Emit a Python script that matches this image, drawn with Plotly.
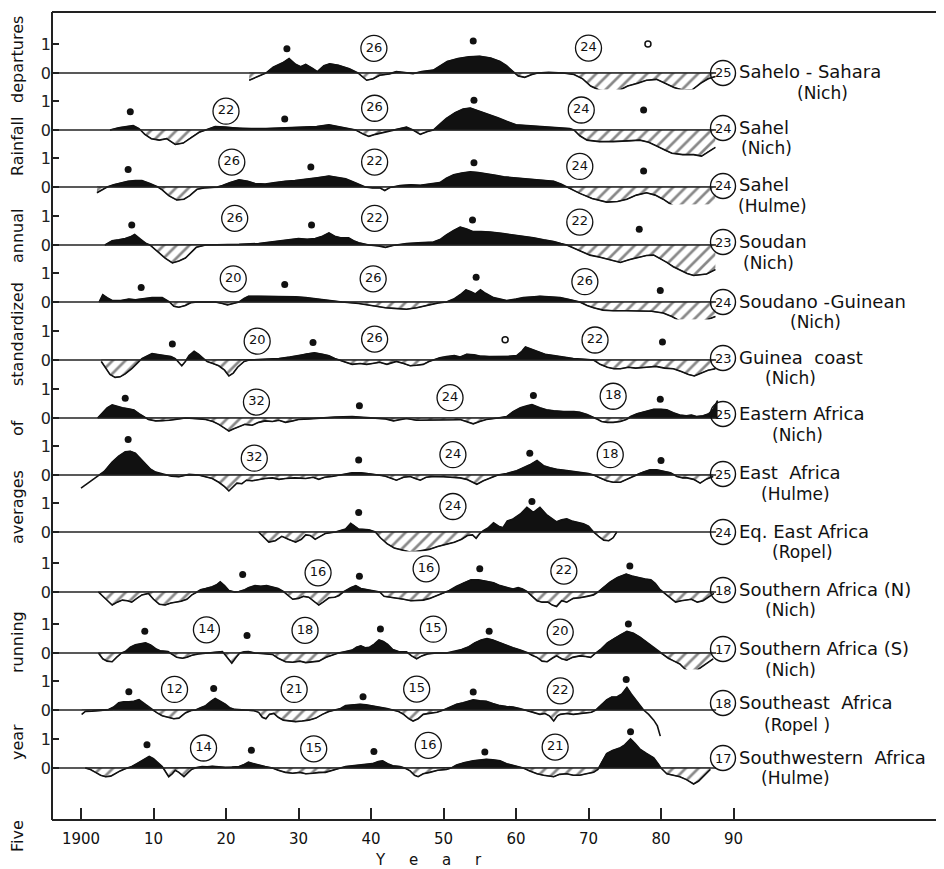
import plotly.graph_objects as go

# ---------------- data ----------------
SS_YEARS = [1923.2,1924.3,1925.5,1926.5,1927.8,1928.7,1929.6,1930.3,1931.0,1932.0,1932.6,1933.5,1934.3,1935.5,1937.0,1938.2,1939.4,1940.3,1941.2,1942.5,1943.5,1944.5,1945.8,1947.0,1948.6,1949.6,1950.5,1952.0,1953.5,1955.0,1956.5,1957.8,1958.7,1959.6,1960.3,1961.2,1962.2,1963.0,1964.5,1966.5,1968.0,1969.2,1970.3,1971.6,1972.9,1974.2,1975.4,1976.8,1978.0,1979.4,1980.5,1981.8,1983.2,1984.3,1985.5,1986.5,1987.5]
SS_VALUES = [-0.25,-0.12,0.0,0.2,0.35,0.5,0.3,0.22,0.3,0.15,0.05,0.25,0.32,0.27,0.15,0.0,-0.25,-0.2,-0.08,-0.03,0.05,0.02,-0.02,0.05,0.1,0.25,0.4,0.5,0.56,0.58,0.52,0.4,0.25,0.05,-0.1,-0.15,-0.05,0.0,0.02,0.0,-0.05,-0.2,-0.45,-0.6,-0.65,-0.6,-0.45,-0.35,-0.25,-0.22,-0.35,-0.5,-0.6,-0.58,-0.35,-0.2,-0.12]

SN_YEARS = [1904.0,1905.2,1906.3,1907.2,1908.0,1908.8,1909.7,1910.8,1911.8,1913.0,1914.1,1915.2,1916.3,1917.2,1918.5,1919.9,1921.8,1923.6,1925.5,1928.2,1931.0,1932.5,1934.2,1936.0,1937.9,1939.0,1939.7,1940.6,1941.8,1943.0,1944.9,1945.8,1946.8,1947.8,1948.6,1949.5,1950.4,1951.6,1952.7,1953.7,1955.0,1956.2,1957.5,1958.7,1960.0,1961.5,1963.0,1964.2,1966.0,1967.4,1968.0,1968.8,1969.8,1971.5,1973.4,1975.5,1977.1,1978.3,1979.4,1980.5,1981.5,1983.0,1984.5,1985.6,1986.5,1987.5]
SN_VALUES = [0.0,0.08,0.12,0.15,0.05,-0.15,-0.3,-0.35,-0.3,-0.5,-0.45,-0.25,-0.08,0.0,0.12,0.1,0.05,0.05,0.05,0.08,0.1,0.12,0.18,0.1,0.0,-0.15,-0.22,-0.15,-0.08,0.0,0.1,0.0,-0.15,-0.05,0.0,0.2,0.4,0.6,0.72,0.76,0.65,0.55,0.42,0.3,0.18,0.15,0.12,0.12,0.08,0.05,0.0,-0.2,-0.35,-0.4,-0.4,-0.38,-0.35,-0.42,-0.55,-0.7,-0.8,-0.85,-0.85,-0.9,-0.75,-0.6]

SH_YEARS = [1902.2,1903.0,1903.6,1904.5,1905.5,1906.5,1907.5,1908.4,1909.5,1910.5,1911.2,1912.1,1913.2,1914.2,1915.0,1916.0,1917.0,1918.5,1919.5,1920.5,1921.8,1923.0,1924.0,1925.4,1926.8,1928.2,1929.5,1931.0,1932.6,1934.2,1935.3,1936.5,1937.5,1938.5,1939.2,1940.2,1941.2,1941.9,1942.6,1944.0,1945.5,1946.8,1948.0,1949.5,1950.4,1951.4,1952.5,1953.7,1954.8,1956.0,1957.2,1958.3,1960.6,1963.3,1965.2,1966.2,1967.0,1968.0,1968.8,1970.5,1972.5,1974.0,1975.3,1976.6,1978.0,1979.2,1980.3,1981.5,1982.6,1983.8,1985.0,1986.3,1987.5]
SH_VALUES = [-0.2,-0.1,0.0,0.08,0.15,0.2,0.22,0.22,0.12,0.02,-0.1,-0.3,-0.45,-0.42,-0.3,-0.08,-0.03,-0.02,0.05,0.15,0.25,0.2,0.12,0.1,0.15,0.2,0.22,0.28,0.32,0.38,0.32,0.28,0.18,0.08,0.0,-0.03,-0.03,-0.12,-0.02,0.05,0.08,0.06,0.1,0.15,0.3,0.42,0.48,0.52,0.5,0.46,0.4,0.35,0.3,0.25,0.2,0.1,0.0,-0.12,-0.22,-0.4,-0.52,-0.5,-0.42,-0.28,-0.2,-0.28,-0.42,-0.62,-0.8,-0.95,-1.1,-1.05,-0.9]

SO_YEARS = [1903.3,1904.3,1905.2,1906.1,1906.8,1907.4,1908.2,1909.0,1909.5,1910.7,1911.6,1912.6,1913.5,1914.4,1915.2,1915.9,1917.2,1919.0,1921.8,1924.5,1926.0,1927.3,1928.8,1930.0,1931.2,1932.3,1933.3,1934.2,1935.0,1935.8,1936.9,1937.6,1938.3,1939.7,1941.0,1942.0,1943.0,1944.9,1946.5,1948.6,1949.6,1950.4,1951.4,1952.3,1953.2,1954.1,1955.2,1956.4,1958.0,1959.6,1961.0,1962.4,1963.8,1965.2,1966.2,1967.0,1968.8,1970.2,1971.6,1973.0,1974.4,1975.7,1977.1,1978.0,1979.0,1980.0,1980.8,1981.7,1982.6,1983.6,1984.5,1985.5,1986.3,1987.5]
SO_VALUES = [0.0,0.15,0.18,0.22,0.28,0.36,0.2,0.05,0.0,-0.25,-0.45,-0.62,-0.55,-0.45,-0.25,-0.08,0.0,0.0,0.02,0.05,0.1,0.15,0.2,0.22,0.2,0.22,0.3,0.42,0.3,0.25,0.25,0.15,0.08,0.0,-0.03,-0.08,-0.02,0.05,0.08,0.1,0.2,0.35,0.5,0.62,0.55,0.46,0.46,0.45,0.4,0.35,0.3,0.25,0.18,0.12,0.05,0.0,-0.2,-0.35,-0.42,-0.52,-0.6,-0.5,-0.4,-0.36,-0.35,-0.48,-0.6,-0.75,-0.85,-0.98,-1.05,-1.02,-1.0,-0.85]

SG_YEARS = [1902.5,1903.0,1903.6,1904.3,1905.5,1906.6,1907.5,1908.2,1909.0,1909.8,1911.2,1911.8,1912.2,1912.8,1913.5,1914.4,1915.2,1916.0,1918.5,1919.5,1920.2,1921.0,1921.8,1922.5,1923.1,1924.5,1925.9,1927.3,1928.2,1929.6,1931.0,1932.6,1934.2,1936.0,1938.3,1939.5,1940.6,1942.0,1943.2,1944.9,1946.3,1948.1,1949.3,1950.4,1951.4,1952.3,1953.1,1953.8,1954.4,1955.1,1955.8,1956.9,1958.0,1958.7,1960.0,1961.0,1962.5,1963.3,1964.5,1966.1,1967.5,1968.8,1969.8,1970.7,1972.0,1973.4,1975.3,1977.1,1978.7,1980.3,1981.5,1982.6,1983.8,1984.9,1986.0,1987.5]
SG_VALUES = [0.0,0.25,0.15,0.05,0.05,0.1,0.08,0.1,0.12,0.15,0.15,0.05,0.0,-0.15,-0.18,-0.12,-0.02,0.0,0.0,-0.05,-0.1,-0.05,0.0,0.12,0.2,0.2,0.2,0.18,0.2,0.18,0.15,0.1,0.05,0.0,-0.05,-0.1,-0.15,-0.2,-0.22,-0.25,-0.2,-0.1,-0.03,0.0,0.1,0.25,0.42,0.35,0.28,0.42,0.3,0.15,0.08,0.05,0.1,0.15,0.18,0.2,0.18,0.15,0.08,0.0,-0.12,-0.2,-0.28,-0.3,-0.3,-0.3,-0.32,-0.38,-0.5,-0.65,-0.78,-0.8,-0.65,-0.5]

GC_YEARS = [1902.8,1903.4,1904.0,1904.7,1905.4,1906.1,1907.0,1907.8,1908.4,1909.2,1909.8,1910.8,1911.6,1912.4,1913.0,1913.5,1913.9,1914.4,1914.9,1915.6,1916.2,1916.9,1917.4,1918.2,1919.0,1919.8,1920.4,1921.0,1921.6,1922.5,1923.2,1925.0,1927.3,1928.8,1930.0,1931.2,1932.2,1933.3,1934.2,1935.0,1935.6,1936.5,1937.4,1938.5,1939.4,1940.2,1941.2,1942.2,1943.5,1944.5,1945.4,1946.3,1947.2,1948.0,1948.6,1949.5,1950.4,1951.5,1952.3,1953.2,1954.2,1955.0,1956.3,1957.8,1959.0,1960.1,1960.8,1961.3,1962.0,1962.9,1964.0,1965.2,1966.5,1967.9,1969.5,1970.7,1971.6,1972.6,1973.5,1974.4,1975.5,1976.5,1978.0,1979.3,1980.5,1981.7,1982.8,1983.8,1984.6,1985.5,1986.5,1987.5]
GC_VALUES = [-0.05,-0.3,-0.5,-0.6,-0.58,-0.48,-0.3,-0.1,0.05,0.15,0.22,0.18,0.15,0.12,0.05,-0.1,-0.2,-0.05,0.15,0.3,0.2,0.05,-0.05,-0.12,-0.2,-0.35,-0.55,-0.45,-0.25,-0.05,0.0,0.02,0.05,0.1,0.15,0.22,0.25,0.2,0.15,0.05,0.0,-0.08,-0.15,-0.12,-0.15,-0.12,-0.08,-0.15,-0.05,-0.12,-0.2,-0.18,-0.15,-0.05,0.0,0.08,0.12,0.15,0.1,0.2,0.18,0.14,0.12,0.12,0.13,0.15,0.3,0.45,0.38,0.3,0.2,0.15,0.1,0.05,0.02,0.0,-0.15,-0.25,-0.3,-0.3,-0.25,-0.28,-0.25,-0.22,-0.28,-0.3,-0.4,-0.5,-0.55,-0.45,-0.35,-0.3]

EA_YEARS = [1902.3,1903.0,1903.6,1904.3,1905.0,1905.7,1906.5,1907.3,1908.0,1908.7,1909.3,1910.3,1911.2,1912.2,1913.0,1914.4,1916.0,1917.2,1918.2,1919.0,1919.8,1920.4,1921.0,1921.8,1922.6,1923.6,1924.5,1925.4,1926.4,1927.3,1928.2,1929.2,1930.0,1931.5,1932.8,1935.0,1937.4,1939.7,1941.0,1942.0,1943.1,1944.0,1944.9,1946.3,1947.7,1949.0,1950.4,1951.5,1952.3,1953.2,1954.1,1955.0,1955.9,1957.5,1958.7,1959.6,1960.6,1961.5,1962.2,1963.3,1964.2,1965.2,1966.6,1968.0,1968.8,1969.8,1970.7,1971.3,1971.8,1972.6,1973.4,1974.4,1975.2,1975.8,1976.7,1977.8,1979.0,1980.0,1980.8,1981.7,1982.6,1983.5,1984.2,1984.9,1985.8,1986.6,1987.2,1987.8]
EA_VALUES = [0.0,0.2,0.35,0.45,0.4,0.35,0.32,0.28,0.15,0.05,-0.05,-0.1,-0.1,-0.08,-0.05,0.0,-0.02,-0.05,-0.12,-0.22,-0.35,-0.45,-0.38,-0.3,-0.22,-0.25,-0.15,-0.1,-0.12,-0.08,-0.15,-0.1,-0.05,-0.03,0.0,0.03,0.05,0.0,-0.02,-0.03,-0.1,-0.05,-0.02,-0.08,-0.08,-0.06,-0.08,-0.06,-0.05,-0.12,-0.2,-0.12,-0.05,0.0,0.05,0.22,0.35,0.42,0.46,0.35,0.28,0.25,0.22,0.22,0.2,0.12,0.03,-0.05,-0.12,-0.15,-0.15,-0.12,-0.05,0.05,0.15,0.22,0.3,0.3,0.28,0.18,0.1,0.08,0.1,0.05,0.08,0.15,0.3,0.6]

EH_YEARS = [1900.0,1901.0,1902.0,1902.5,1903.2,1904.3,1905.2,1906.1,1906.8,1907.5,1908.3,1908.9,1909.6,1910.3,1911.0,1911.6,1912.5,1913.5,1914.2,1914.9,1916.2,1917.2,1918.1,1919.0,1919.8,1920.4,1921.0,1921.5,1922.2,1922.8,1923.6,1924.5,1925.4,1926.4,1927.3,1928.2,1929.5,1931.0,1932.0,1932.8,1933.6,1934.6,1935.8,1937.4,1938.6,1939.7,1941.0,1942.0,1943.5,1944.5,1945.4,1946.1,1946.8,1947.6,1948.6,1950.0,1951.4,1952.3,1953.2,1954.0,1954.6,1955.5,1956.4,1957.5,1958.7,1959.5,1960.1,1961.0,1961.9,1962.9,1963.8,1964.7,1965.6,1967.0,1968.8,1970.0,1970.7,1971.5,1972.5,1973.4,1974.4,1975.3,1976.2,1976.9,1977.6,1978.5,1979.4,1980.5,1981.3,1982.2,1983.0,1983.6,1984.5,1985.4,1986.2,1987.2]
EH_VALUES = [-0.45,-0.28,-0.08,0.0,0.12,0.45,0.65,0.8,0.82,0.75,0.55,0.38,0.2,0.1,0.05,0.0,-0.04,-0.06,-0.02,0.02,0.0,-0.05,-0.12,-0.25,-0.4,-0.55,-0.42,-0.28,-0.3,-0.18,-0.2,-0.15,-0.12,-0.1,-0.15,-0.12,-0.1,-0.12,-0.08,-0.15,-0.08,-0.05,0.0,0.08,0.08,0.05,0.0,-0.04,-0.18,-0.08,-0.05,-0.12,-0.18,-0.08,-0.05,-0.06,-0.08,-0.1,-0.15,-0.25,-0.32,-0.2,-0.1,0.0,0.05,0.1,0.15,0.25,0.35,0.5,0.32,0.25,0.2,0.15,0.1,0.05,0.0,-0.1,-0.2,-0.25,-0.25,-0.15,-0.05,0.05,0.1,0.18,0.18,0.12,0.08,-0.05,-0.1,-0.1,-0.15,-0.28,-0.15,-0.05]

EQ_YEARS = [1924.5,1925.3,1925.9,1926.8,1927.7,1928.6,1929.6,1930.4,1931.0,1931.6,1932.3,1933.0,1933.7,1935.1,1936.5,1937.2,1937.8,1938.3,1939.7,1940.6,1941.3,1942.2,1943.2,1944.5,1945.5,1946.8,1948.0,1949.2,1950.4,1951.5,1952.5,1953.3,1954.0,1954.5,1955.0,1955.5,1956.2,1956.9,1957.6,1958.2,1958.8,1959.6,1960.6,1961.5,1962.4,1963.3,1964.2,1965.0,1965.6,1966.3,1967.0,1967.7,1968.4,1969.3,1970.0,1970.7,1971.4,1972.1,1972.8,1973.4,1973.9]
EQ_VALUES = [0.0,-0.2,-0.35,-0.3,-0.15,-0.25,-0.35,-0.25,-0.1,-0.12,-0.25,-0.15,-0.05,0.0,0.1,0.3,0.2,0.1,0.08,0.0,-0.2,-0.4,-0.55,-0.65,-0.7,-0.65,-0.6,-0.5,-0.42,-0.35,-0.25,-0.12,-0.1,-0.22,-0.05,0.05,0.15,0.32,0.2,0.15,0.38,0.45,0.62,0.85,0.68,0.85,0.6,0.45,0.35,0.42,0.45,0.38,0.33,0.28,0.2,0.0,-0.15,-0.28,-0.3,-0.2,0.0]

SAN_YEARS = [1902.4,1903.4,1904.3,1905.0,1905.7,1906.4,1907.0,1907.7,1908.4,1909.3,1910.0,1910.8,1911.6,1912.4,1913.0,1913.8,1914.6,1915.3,1916.0,1916.5,1917.2,1918.1,1918.7,1919.2,1919.8,1920.4,1921.2,1921.8,1922.6,1923.1,1924.0,1924.8,1925.6,1926.4,1927.2,1927.9,1928.5,1929.2,1930.0,1930.7,1931.4,1932.1,1932.8,1933.4,1934.2,1935.0,1935.6,1936.3,1937.2,1937.9,1938.6,1939.5,1940.6,1941.2,1941.8,1942.8,1943.5,1944.5,1945.5,1946.3,1947.2,1948.1,1949.2,1950.2,1950.8,1951.8,1952.8,1953.8,1954.8,1955.8,1956.9,1957.8,1958.7,1959.6,1960.3,1960.9,1961.5,1962.2,1962.9,1963.6,1964.4,1965.0,1965.6,1966.3,1967.0,1967.9,1968.8,1969.8,1970.7,1971.3,1972.0,1973.0,1974.0,1975.2,1976.0,1976.8,1977.8,1978.6,1979.2,1979.8,1980.5,1981.2,1982.0,1982.8,1983.4,1984.2,1985.0,1985.8,1986.7,1987.3]
SAN_VALUES = [0.0,-0.25,-0.45,-0.35,-0.28,-0.3,-0.35,-0.22,-0.1,-0.05,-0.25,-0.42,-0.45,-0.38,-0.35,-0.32,-0.25,-0.1,0.0,0.08,0.12,0.18,0.25,0.35,0.22,0.05,0.0,0.02,0.08,0.15,0.22,0.2,0.22,0.18,0.12,0.02,-0.1,-0.25,-0.22,-0.15,-0.18,-0.3,-0.45,-0.35,-0.2,-0.18,-0.12,0.02,0.15,0.22,0.12,0.08,0.05,0.0,-0.15,-0.18,-0.2,-0.25,-0.3,-0.3,-0.28,-0.22,-0.12,-0.02,0.05,0.2,0.32,0.42,0.42,0.38,0.32,0.22,0.15,0.1,0.15,0.1,0.02,-0.15,-0.3,-0.35,-0.35,-0.45,-0.5,-0.3,-0.35,-0.22,-0.2,-0.15,-0.1,0.0,0.15,0.35,0.5,0.62,0.55,0.5,0.45,0.42,0.3,0.1,-0.05,-0.2,-0.35,-0.3,-0.28,-0.25,-0.35,-0.3,-0.15,-0.05]

SAS_YEARS = [1902.4,1903.0,1903.6,1904.3,1904.9,1905.4,1906.1,1906.8,1907.5,1908.2,1908.9,1909.6,1910.3,1910.9,1912.0,1912.6,1913.2,1914.0,1914.6,1915.3,1916.2,1917.5,1918.5,1919.5,1920.2,1920.8,1921.4,1921.9,1922.5,1923.1,1924.0,1925.2,1926.4,1927.2,1928.2,1929.2,1930.2,1931.0,1931.8,1932.8,1933.8,1934.6,1935.5,1936.5,1937.4,1938.0,1938.6,1939.2,1939.8,1940.4,1941.1,1941.7,1942.3,1943.0,1943.8,1944.9,1945.6,1946.3,1947.0,1947.8,1949.0,1950.4,1951.5,1952.5,1953.5,1954.3,1955.2,1956.0,1956.8,1957.8,1958.7,1959.6,1960.6,1961.5,1962.2,1962.9,1963.6,1964.3,1965.0,1965.6,1966.3,1967.0,1967.8,1968.8,1969.6,1970.3,1971.0,1971.8,1972.6,1973.5,1974.4,1975.3,1976.2,1977.1,1978.0,1978.9,1979.7,1980.2,1981.0,1981.8,1982.6,1983.3,1984.0,1984.8,1985.5,1986.3,1987.2]
SAS_VALUES = [0.0,-0.2,-0.28,-0.3,-0.15,-0.02,0.05,0.2,0.28,0.32,0.35,0.28,0.15,0.08,0.05,-0.05,-0.15,-0.18,-0.15,-0.08,-0.03,0.0,0.03,0.05,-0.15,-0.35,-0.15,0.0,0.04,0.05,0.0,-0.02,-0.05,-0.18,-0.3,-0.32,-0.28,-0.33,-0.3,-0.28,-0.15,-0.08,0.0,0.05,0.1,0.2,0.25,0.18,0.2,0.3,0.45,0.4,0.3,0.12,0.05,0.04,-0.1,-0.2,-0.1,-0.03,0.0,0.0,0.05,0.12,0.22,0.35,0.45,0.5,0.45,0.35,0.25,0.18,0.1,0.03,-0.08,-0.15,-0.28,-0.3,-0.18,-0.1,-0.2,-0.25,-0.15,-0.1,-0.12,-0.15,0.0,0.15,0.35,0.5,0.62,0.75,0.68,0.55,0.38,0.2,0.05,-0.05,-0.18,-0.28,-0.38,-0.55,-0.68,-0.62,-0.5,-0.35,-0.2]

SE_YEARS = [1900.1,1900.6,1901.5,1902.9,1903.8,1904.5,1905.2,1905.9,1906.6,1907.3,1908.0,1908.6,1909.2,1909.8,1910.5,1911.2,1912.0,1912.8,1913.5,1914.4,1915.2,1915.8,1916.5,1917.2,1917.9,1918.5,1919.2,1919.9,1920.5,1921.2,1922.7,1923.8,1924.5,1925.0,1925.5,1926.0,1926.6,1927.2,1927.9,1928.7,1929.6,1930.5,1931.4,1932.4,1933.3,1934.2,1935.1,1935.8,1936.5,1937.5,1938.5,1939.3,1940.0,1940.8,1941.5,1942.2,1943.0,1943.8,1944.5,1945.2,1945.8,1946.5,1947.2,1948.2,1949.1,1950.0,1950.9,1951.8,1952.7,1953.5,1954.1,1955.0,1955.9,1956.8,1957.8,1958.7,1959.6,1960.5,1961.2,1961.9,1962.6,1963.3,1964.0,1964.6,1965.2,1965.7,1966.1,1967.0,1967.9,1968.8,1969.7,1970.4,1971.0,1971.6,1972.5,1973.2,1973.9,1974.6,1975.3,1975.9,1976.5,1977.1,1977.6,1978.3,1979.0,1979.5,1979.9]
SE_VALUES = [-0.15,-0.05,-0.04,-0.02,0.02,0.1,0.25,0.28,0.28,0.3,0.36,0.25,0.12,0.0,-0.1,-0.2,-0.25,-0.3,-0.28,-0.1,-0.02,0.0,0.08,0.15,0.3,0.4,0.3,0.2,0.08,0.02,0.0,-0.02,-0.08,-0.25,-0.3,-0.15,-0.12,-0.25,-0.35,-0.38,-0.4,-0.38,-0.35,-0.28,-0.15,-0.05,0.0,0.05,0.15,0.18,0.2,0.18,0.15,0.12,0.1,0.05,0.0,-0.05,-0.15,-0.3,-0.38,-0.3,-0.15,-0.1,-0.08,0.0,0.1,0.2,0.25,0.3,0.35,0.32,0.3,0.22,0.15,0.12,0.1,0.05,0.0,-0.05,-0.1,-0.15,-0.12,-0.2,-0.38,-0.2,-0.15,-0.12,-0.15,-0.12,-0.1,-0.08,0.0,0.15,0.35,0.45,0.45,0.55,0.78,0.55,0.35,0.15,0.0,-0.15,-0.35,-0.55,-0.9]

SW_YEARS = [1900.6,1901.3,1902.0,1902.7,1903.4,1904.1,1904.7,1905.4,1906.1,1907.0,1907.7,1908.4,1909.0,1909.4,1910.0,1910.6,1911.2,1911.6,1912.1,1912.6,1913.0,1913.5,1914.2,1914.8,1915.3,1916.0,1916.7,1917.4,1918.1,1919.0,1919.9,1920.8,1921.8,1922.5,1923.1,1923.8,1924.5,1925.4,1926.4,1927.2,1928.2,1929.2,1930.2,1931.0,1932.0,1932.8,1933.7,1934.4,1935.1,1935.8,1936.5,1937.4,1938.3,1939.2,1940.2,1941.0,1941.6,1942.3,1943.0,1944.0,1944.8,1945.4,1946.0,1946.5,1947.2,1948.1,1949.2,1950.4,1951.2,1951.8,1952.8,1954.1,1955.0,1955.9,1956.8,1957.8,1958.7,1959.6,1960.4,1961.0,1961.9,1962.9,1963.8,1964.6,1965.2,1966.0,1967.0,1967.9,1968.8,1969.7,1970.7,1971.3,1971.8,1972.5,1973.3,1974.4,1975.0,1975.8,1976.4,1977.1,1978.0,1979.0,1979.6,1980.0,1980.8,1981.6,1982.6,1983.5,1984.5,1985.2,1985.8,1986.4,1986.8]
SW_VALUES = [0.0,-0.05,-0.15,-0.25,-0.3,-0.28,-0.2,-0.1,-0.03,0.05,0.15,0.25,0.35,0.4,0.32,0.2,0.05,-0.1,-0.3,-0.2,-0.08,-0.15,-0.3,-0.15,-0.04,0.02,0.05,0.04,0.06,0.03,0.02,0.03,0.05,0.12,0.2,0.15,0.1,0.05,0.0,-0.08,-0.15,-0.18,-0.15,-0.2,-0.18,-0.15,-0.15,-0.1,-0.05,0.0,0.05,0.08,0.1,0.12,0.15,0.22,0.25,0.15,0.08,0.05,-0.02,-0.1,-0.25,-0.3,-0.2,-0.15,-0.08,-0.05,0.02,0.1,0.18,0.25,0.28,0.3,0.28,0.25,0.15,0.1,0.05,0.0,-0.1,-0.2,-0.25,-0.28,-0.3,-0.22,-0.2,-0.25,-0.25,-0.2,-0.15,-0.05,0.2,0.5,0.6,0.7,0.8,1.0,0.85,0.65,0.5,0.35,0.15,0.0,-0.2,-0.25,-0.3,-0.4,-0.55,-0.45,-0.3,-0.15,-0.05]

SERIES_YEARS = [SS_YEARS, SN_YEARS, SH_YEARS, SO_YEARS, SG_YEARS, GC_YEARS, EA_YEARS,
                EH_YEARS, EQ_YEARS, SAN_YEARS, SAS_YEARS, SE_YEARS, SW_YEARS]
SERIES_VALUES = [SS_VALUES, SN_VALUES, SH_VALUES, SO_VALUES, SG_VALUES, GC_VALUES, EA_VALUES,
                 EH_VALUES, EQ_VALUES, SAN_VALUES, SAS_VALUES, SE_VALUES, SW_VALUES]

REGION_NAMES = ["Sahelo - Sahara", "Sahel", "Sahel", "Soudan", "Soudano -Guinean",
                "Guinea\u00a0\u00a0coast", "Eastern Africa", "East\u00a0\u00a0Africa",
                "Eq. East Africa", "Southern Africa (N)", "Southern Africa (S)",
                "Southeast\u00a0\u00a0Africa", "Southwestern\u00a0\u00a0Africa"]
REGION_SOURCES = ["(Nich)", "(Nich)", "(Hulme)", "(Nich)", "(Nich)", "(Nich)", "(Nich)", "(Hulme)",
                  "(Ropel)", "(Nich)", "(Nich)", "(Ropel )", "(Hulme)"]
REGION_NUMBERS = ["25", "24", "24", "23", "24", "23", "25", "25", "24", "18", "17", "18", "17"]

# peak dots (year, value) per panel
DOT_YEARS = [[1928.4, 1954.1], [1906.8, 1928.1, 1954.2, 1977.6], [1906.5, 1931.7, 1954.2, 1977.6],
             [1907.0, 1931.8, 1954.0, 1977.0], [1908.3, 1928.1, 1954.5, 1979.9], [1912.6, 1932.0, 1980.2],
             [1906.1, 1938.4, 1962.4, 1979.9], [1906.5, 1938.3, 1961.9, 1980.0], [1938.3, 1962.2],
             [1922.3, 1938.4, 1955.0, 1975.7], [1908.8, 1922.9, 1941.3, 1956.3, 1975.5],
             [1906.6, 1918.3, 1938.9, 1954.1, 1975.2], [1909.1, 1923.5, 1940.4, 1955.7, 1975.8]]
DOT_VALUES = [[0.84, 1.1], [0.63, 0.38, 1.03, 0.69], [0.6, 0.69, 0.84, 0.55],
              [0.69, 0.69, 0.86, 0.54], [0.5, 0.6, 0.85, 0.4], [0.55, 0.6, 0.62],
              [0.68, 0.42, 0.78, 0.65], [1.22, 0.52, 0.75, 0.5], [0.67, 1.05],
              [0.6, 0.54, 0.8, 0.9], [0.75, 0.6, 0.83, 0.75, 1.0],
              [0.63, 0.74, 0.46, 0.62, 1.05], [0.8, 0.61, 0.57, 0.55, 1.25]]
OPEN_DOT_YEARS = [[1978.2], [], [], [], [], [1958.5], [], [], [], [], [], [], []]
OPEN_DOT_VALUES = [[1.0], [], [], [], [], [0.7], [], [], [], [], [], [], []]

# circled numbers inside the panels
CIRCLE_YEARS = [[1940.4, 1970.0], [1920.0, 1940.5, 1969.0], [1920.8, 1940.5, 1968.8],
                [1921.2, 1940.5, 1968.8], [1921.0, 1940.3, 1969.5], [1924.3, 1940.5, 1970.9],
                [1924.2, 1950.9, 1973.4], [1923.9, 1951.3, 1973.0], [1951.3],
                [1932.7, 1947.6, 1966.6], [1917.3, 1930.9, 1948.6, 1966.1],
                [1912.9, 1929.4, 1946.3, 1966.1], [1916.9, 1932.1, 1947.9, 1965.4]]
CIRCLE_VALUES = [[0.85, 0.86], [0.65, 0.75, 0.69], [0.86, 0.86, 0.71],
                 [0.92, 0.92, 0.79], [0.8, 0.8, 0.7], [0.65, 0.72, 0.69],
                 [0.55, 0.7, 0.75], [0.58, 0.7, 0.7], [0.88],
                 [0.66, 0.8, 0.72], [0.8, 0.78, 0.82, 0.72],
                 [0.71, 0.71, 0.72, 0.66], [0.69, 0.66, 0.78, 0.72]]
CIRCLE_LABELS = [["26", "24"], ["22", "26", "24"], ["26", "22", "24"], ["26", "22", "22"],
                 ["20", "26", "26"], ["20", "26", "22"], ["32", "24", "18"], ["32", "24", "18"],
                 ["24"], ["16", "16", "22"], ["14", "18", "15", "20"], ["12", "21", "15", "22"],
                 ["14", "15", "16", "21"]]

# portion of each curve that is shaded (None = whole curve)
FILL_FROM = [None, None, None, None, None, None, None, 1902.5, None, None, None, None, None]
FILL_TO = [None, None, None, None, None, None, None, None, None, None, None, 1977.6, None]

YEAR_TICKS = [1900, 1910, 1920, 1930, 1940, 1950, 1960, 1970, 1980, 1990]
YEAR_TICK_TEXT = ["1900", "10", "20", "30", "40", "50", "60", "70", "80", "90"]

YTITLE_WORDS = ["Five", "year", "running", "averages", "of", "standardized", "annual",
                "Rainfall", "departures"]

# ---------------- layout geometry (page pixels) ----------------
PAGE_W, PAGE_H = 944, 869
BODY = 8                      # default page margin around the plot div
PLOT_L, PLOT_T, PLOT_R, PLOT_B = 52, 12, 944, 820
W, H = PAGE_W - BODY, PAGE_H - BODY
ML, MT = PLOT_L - BODY, PLOT_T - BODY
MR = W - (PLOT_R - BODY)
MB = H - (PLOT_B - BODY)
PW, PH = PLOT_R - PLOT_L, PLOT_B - PLOT_T
X_RANGE = [1896.0, 1896.0 + PW / 7.25]
UNIT = 29.0
LO, HI = 1.2, 1.4
BASE_PX = [73, 130, 187, 245, 302, 360, 418, 475, 532, 592, 653, 710, 768]
BASELINE_END = 1987.6
NAME_PX_Y = [72, 127, 185, 241, 301, 357, 413, 473, 531, 589, 648, 702, 757]
SRC_PX = [(822, 93), (766, 148), (772, 206), (768, 263), (815, 322), (790, 378), (797, 435),
          (795, 494), (802, 552), (790, 610), (790, 670), (797, 725), (795, 778)]
YTITLE_PX_Y = [836, 742, 642, 507, 428, 334, 236, 147, 60]

FONT = "DejaVu Sans"


def xp(px):
    return (px - PLOT_L) / PW


def yp(py):
    return (PLOT_B - py) / PH


def split_zero(xs, ys):
    ox, oy = [], []
    for i in range(len(xs)):
        if i > 0 and ((ys[i - 1] < 0 < ys[i]) or (ys[i - 1] > 0 > ys[i])):
            t = ys[i - 1] / (ys[i - 1] - ys[i])
            ox.append(xs[i - 1] + t * (xs[i] - xs[i - 1]))
            oy.append(0.0)
        ox.append(xs[i])
        oy.append(ys[i])
    return ox, oy


fig = go.Figure()
shapes = []
annotations = []
layout_axes = {}

for i in range(13):
    yname = "y" if i == 0 else f"y{i + 1}"
    axkey = "yaxis" if i == 0 else f"yaxis{i + 1}"
    b = BASE_PX[i]
    top_px, bot_px = b - HI * UNIT, b + LO * UNIT
    layout_axes[axkey] = dict(
        domain=[yp(bot_px), yp(top_px)], range=[-LO, HI], anchor="x",
        tickvals=[0, 1], ticktext=["0", "1"], ticks="inside", ticklen=7, tickwidth=1.5,
        tickcolor="#222", showgrid=False, zeroline=False, showline=False,
        tickfont=dict(size=16, color="#222", family=FONT), fixedrange=True,
    )
    xs, ys = split_zero(SERIES_YEARS[i], SERIES_VALUES[i])
    f0 = FILL_FROM[i] if FILL_FROM[i] is not None else -1e9
    f1 = FILL_TO[i] if FILL_TO[i] is not None else 1e9
    fx = [x for x in xs if f0 <= x <= f1]
    fy = [y for x, y in zip(xs, ys) if f0 <= x <= f1]
    fig.add_trace(go.Scatter(x=fx, y=[max(v, 0) for v in fy], yaxis=yname, mode="lines",
                             line=dict(color="#111", width=0.8), fill="tozeroy",
                             fillcolor="#111", hoverinfo="skip", showlegend=False))
    fig.add_trace(go.Scatter(x=fx, y=[min(v, 0) for v in fy], yaxis=yname, mode="lines",
                             line=dict(color="#111", width=0.8), fill="tozeroy",
                             fillpattern=dict(shape="/", fgcolor="#111", bgcolor="white",
                                              size=9, solidity=0.3),
                             hoverinfo="skip", showlegend=False))
    fig.add_trace(go.Scatter(x=xs, y=ys, yaxis=yname, mode="lines",
                             line=dict(color="#111", width=1.6), hoverinfo="skip",
                             showlegend=False))
    shapes.append(dict(type="line", xref="x", yref=yname, x0=X_RANGE[0], x1=BASELINE_END,
                       y0=0, y1=0, line=dict(color="#222", width=1.6)))
    # dots
    fig.add_trace(go.Scatter(x=DOT_YEARS[i], y=DOT_VALUES[i], yaxis=yname, mode="markers",
                             marker=dict(color="#111", size=7), cliponaxis=False,
                             hoverinfo="skip", showlegend=False))
    if OPEN_DOT_YEARS[i]:
        fig.add_trace(go.Scatter(x=OPEN_DOT_YEARS[i], y=OPEN_DOT_VALUES[i], yaxis=yname,
                                 mode="markers", cliponaxis=False,
                                 marker=dict(symbol="circle-open", color="#111", size=6,
                                             line=dict(width=1.5)),
                                 hoverinfo="skip", showlegend=False))
    # circled numbers
    fig.add_trace(go.Scatter(x=CIRCLE_YEARS[i], y=CIRCLE_VALUES[i], yaxis=yname,
                             mode="markers+text", text=CIRCLE_LABELS[i],
                             textposition="middle center", cliponaxis=False,
                             textfont=dict(size=13, color="#111", family=FONT),
                             marker=dict(symbol="circle-open", size=26, color="#111",
                                         line=dict(width=1.3)),
                             hoverinfo="skip", showlegend=False))
    # right labels
    cy = NAME_PX_Y[i]
    r = 12.5
    shapes.append(dict(type="circle", xref="paper", yref="paper",
                       x0=xp(723 - r), x1=xp(723 + r), y0=yp(cy + 1 + r), y1=yp(cy + 1 - r),
                       line=dict(color="#111", width=1.4)))
    annotations.append(dict(x=xp(723), y=yp(cy + 1), xref="paper", yref="paper",
                            text=REGION_NUMBERS[i], showarrow=False,
                            font=dict(size=13, color="#111", family=FONT),
                            xanchor="center", yanchor="middle"))
    annotations.append(dict(x=xp(737), y=yp(cy), xref="paper", yref="paper",
                            text=REGION_NAMES[i], showarrow=False,
                            font=dict(size=18, color="#111", family=FONT),
                            xanchor="left", yanchor="middle"))
    sx, sy = SRC_PX[i]
    annotations.append(dict(x=xp(sx), y=yp(sy), xref="paper", yref="paper",
                            text=REGION_SOURCES[i], showarrow=False,
                            font=dict(size=17, color="#111", family=FONT),
                            xanchor="center", yanchor="middle"))

# frame: left axis line and top line
shapes.append(dict(type="line", xref="paper", yref="paper", x0=0, x1=0, y0=0, y1=1,
                   line=dict(color="#222", width=2)))
shapes.append(dict(type="line", xref="paper", yref="paper", x0=0, x1=1, y0=1, y1=1,
                   line=dict(color="#222", width=2)))

# y title words
for word, py in zip(YTITLE_WORDS, YTITLE_PX_Y):
    annotations.append(dict(x=xp(17), y=yp(py), xref="paper", yref="paper", text=word,
                            textangle=-90, showarrow=False,
                            font=dict(size=16, color="#111", family=FONT),
                            xanchor="center", yanchor="middle"))
SP = "\u00a0" * 5
annotations.append(dict(x=xp(428), y=yp(860), xref="paper", yref="paper",
                        text=SP.join("Year"),
                        showarrow=False, font=dict(size=15, color="#111", family=FONT),
                        xanchor="center", yanchor="middle"))

fig.update_layout(
    width=W, height=H, margin=dict(l=ML, r=MR, t=MT, b=MB, pad=0),
    paper_bgcolor="white", plot_bgcolor="white", showlegend=False,
    xaxis=dict(range=X_RANGE, tickvals=YEAR_TICKS, ticktext=YEAR_TICK_TEXT, ticks="inside",
               ticklen=11, tickwidth=1.5, tickcolor="#222", showline=True, linecolor="#222",
               linewidth=2, showgrid=False, zeroline=False, fixedrange=True,
               anchor="free", position=0, ticklabelstandoff=5,
               tickfont=dict(size=15, color="#111", family=FONT)),
    shapes=shapes, annotations=annotations,
    font=dict(family=FONT, color="#111"),
    **layout_axes,
)

fig.write_html("out.html")
